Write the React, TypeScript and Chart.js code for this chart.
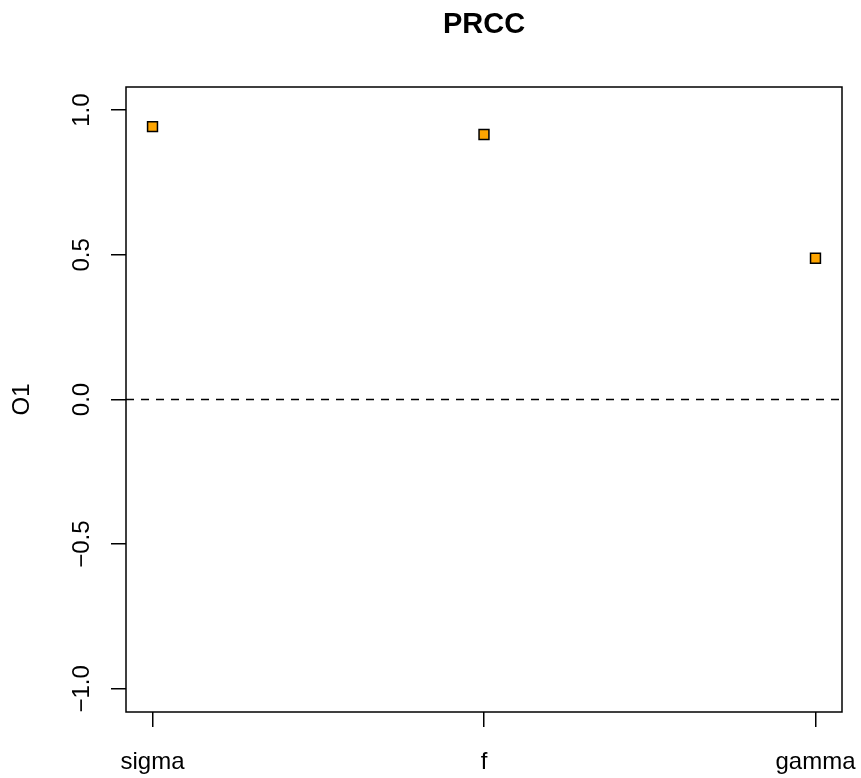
import React, { useEffect, useRef } from "react";
import { Chart, registerables } from "chart.js";

Chart.register(...registerables);

const categories = ["sigma", "f", "gamma"];
const categoryPositions = [1, 2, 3];
const prccValues = [0.943, 0.916, 0.488];
const yTickValues = [-1, -0.5, 0, 0.5, 1];
const yTickLabels = ["\u22121.0", "\u22120.5", "0.0", "0.5", "1.0"];
const xRange = [0.92, 3.08];
const yRange = [-1.08, 1.08];
const refLineY = 0;
const titleText = "PRCC";
const yTitle = "O1";

const FONT = "'Liberation Sans', Arial, Helvetica, sans-serif";

const boxPlugin = {
  id: "plotBox",
  beforeDatasetsDraw(chart: any) {
    const { ctx, chartArea } = chart;
    ctx.save();
    ctx.strokeStyle = "#000";
    ctx.lineWidth = 1.5;
    ctx.strokeRect(chartArea.left, chartArea.top, chartArea.right - chartArea.left, chartArea.bottom - chartArea.top);
    ctx.restore();
  },
};

export default function App() {
  const ref = useRef<HTMLCanvasElement | null>(null);
  useEffect(() => {
    if (!ref.current) return;
    Chart.defaults.font.family = FONT;
    const chart = new Chart(ref.current, {
      type: "scatter",
      data: {
        datasets: [
          {
            label: "PRCC",
            data: categoryPositions.map((x, i) => ({ x, y: prccValues[i] })),
            pointStyle: "rect",
            pointRadius: 7,
            backgroundColor: "#FFA500",
            borderColor: "#000",
            borderWidth: 1.5,
          },
          {
            label: "zero",
            type: "line",
            data: [
              { x: xRange[0], y: refLineY },
              { x: xRange[1], y: refLineY },
            ],
            borderColor: "#000",
            borderWidth: 1.5,
            borderDash: [8, 7],
            pointRadius: 0,
            fill: false,
          } as any,
        ],
      },
      plugins: [boxPlugin],
      options: {
        animation: false,
        responsive: false,
        devicePixelRatio: 1,
        events: [],
        layout: { padding: { left: 0, right: 19, top: 0, bottom: 0 } },
        plugins: {
          legend: { display: false },
          tooltip: { enabled: false },
          title: {
            display: true,
            text: titleText,
            fullSize: false,
            color: "#000",
            font: { size: 29, weight: "bold", family: FONT, lineHeight: 1.2 },
            padding: { top: 8, bottom: 44.2 },
          },
        },
        scales: {
          x: {
            type: "linear",
            min: xRange[0],
            max: xRange[1],
            afterBuildTicks: (axis: any) => {
              axis.ticks = categoryPositions.map((v) => ({ value: v }));
            },
            afterFit: (axis: any) => {
              axis.height = 66;
              axis.paddingLeft = 0;
              axis.paddingRight = 0;
            },
            border: { display: false },
            grid: {
              display: true,
              drawOnChartArea: false,
              drawTicks: true,
              tickLength: 15,
              color: "#000",
              lineWidth: 1.5,
            },
            ticks: {
              color: "#000",
              font: { size: 24, family: FONT },
              padding: 21,
              maxRotation: 0,
              minRotation: 0,
              autoSkip: false,
              callback: (v: any) => {
                const i = categoryPositions.indexOf(Number(v));
                return i >= 0 ? categories[i] : "";
              },
            },
          },
          y: {
            type: "linear",
            min: yRange[0],
            max: yRange[1],
            afterBuildTicks: (axis: any) => {
              axis.ticks = yTickValues.map((v) => ({ value: v }));
            },
            afterFit: (axis: any) => {
              axis.width = 126;
              axis.paddingTop = 0;
              axis.paddingBottom = 0;
            },
            border: { display: false },
            grid: {
              display: true,
              drawOnChartArea: false,
              drawTicks: true,
              tickLength: 15,
              color: "#000",
              lineWidth: 1.5,
            },
            title: {
              display: true,
              text: yTitle,
              color: "#000",
              font: { size: 24, family: FONT, lineHeight: 1.2 },
              padding: { top: 7.6, bottom: 0 },
            },
            ticks: {
              color: "#000",
              font: { size: 24, family: FONT },
              padding: 5,
              minRotation: 90,
              maxRotation: 90,
              crossAlign: "center",
              autoSkip: false,
              callback: (v: any) => {
                const i = yTickValues.indexOf(Number(v));
                return i >= 0 ? yTickLabels[i] : "";
              },
            },
          },
        },
      } as any,
    });
    return () => chart.destroy();
  }, []);
  return (
    <canvas
      ref={ref}
      width={861}
      height={778}
      style={{ position: "absolute", left: 0, top: 0, width: 861, height: 778, background: "#fff" }}
    />
  );
}
